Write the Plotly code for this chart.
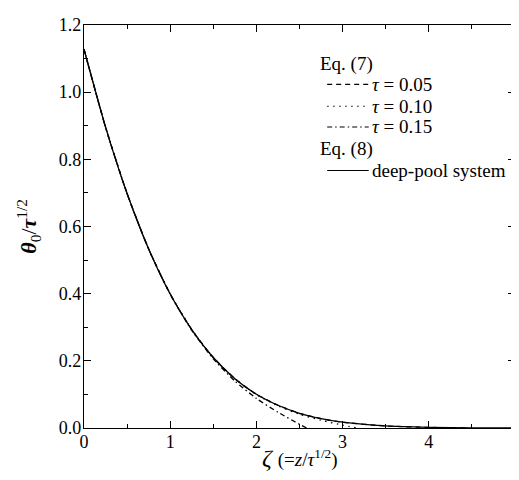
import plotly.graph_objects as go

# deep-pool system, Eq. (8)
zeta_deep = [0, 0.25, 0.5, 0.75, 1.0, 1.25, 1.5, 1.75, 2.0, 2.25, 2.5, 2.75, 3.0, 3.5, 4.0, 4.5, 5.0]
theta_deep = [1.128, 0.896, 0.698, 0.533, 0.399, 0.293, 0.210, 0.147, 0.1005, 0.0677, 0.0438, 0.0280, 0.0172, 0.0061, 0.0020, 0.0006, 0.00015]

# Eq. (7), tau = 0.05
zeta_05 = [0, 0.25, 0.5, 0.75, 1.0, 1.25, 1.5, 1.75, 2.0, 2.25, 2.5, 2.75, 3.0, 3.5, 4.0, 4.25, 4.47]
theta_05 = [1.128, 0.896, 0.698, 0.533, 0.399, 0.293, 0.210, 0.147, 0.1005, 0.0677, 0.0438, 0.0280, 0.0172, 0.0061, 0.0018, 0.0007, 0.0]

# Eq. (7), tau = 0.10
zeta_10 = [0, 0.25, 0.5, 0.75, 1.0, 1.25, 1.5, 1.75, 2.0, 2.25, 2.5, 2.75, 3.0, 3.162]
theta_10 = [1.128, 0.896, 0.698, 0.533, 0.399, 0.293, 0.2095, 0.1465, 0.0996, 0.066, 0.0409, 0.0229, 0.0084, 0.0]

# Eq. (7), tau = 0.15
zeta_15 = [0, 0.25, 0.5, 0.75, 1.0, 1.25, 1.5, 1.75, 2.0, 2.25, 2.5, 2.582]
theta_15 = [1.128, 0.896, 0.698, 0.533, 0.398, 0.291, 0.206, 0.140, 0.088, 0.047, 0.011, 0.0]

x_ticks = [0, 1, 2, 3, 4, 5]
y_ticks = [0.0, 0.2, 0.4, 0.6, 0.8, 1.0, 1.2]
y_tick_labels = ["0.0", "0.2", "0.4", "0.6", "0.8", "1.0", "1.2"]

FONT = "Liberation Serif"

DASH = "5px,4px"
DOT = "1.5px,4.5px"
DASHDOT = "5px,3px,1.5px,3px"

fig = go.Figure()
series = [
    (zeta_deep, theta_deep, "solid"),
    (zeta_05, theta_05, DASH),
    (zeta_10, theta_10, DOT),
    (zeta_15, theta_15, DASHDOT),
]
for xs, ys, dash in series:
    fig.add_trace(go.Scatter(x=xs, y=ys, mode="lines",
                             line=dict(color="black", width=1.3, dash=dash, shape="spline", smoothing=0.6),
                             showlegend=False, hoverinfo="skip"))

axis_common = dict(showline=True, linecolor="black", linewidth=1.3, mirror="ticks",
                   ticks="inside", ticklen=7, tickwidth=1, tickcolor="black",
                   showgrid=False, zeroline=False, ticklabeloverflow="allow",
                   tickfont=dict(family=FONT, size=18, color="black"))

fig.update_xaxes(range=[0, 5], tickvals=x_ticks, ticklabelstandoff=-3,
                 minor=dict(dtick=0.5, ticks="inside", ticklen=4, tickcolor="black", showgrid=False),
                 **axis_common)
fig.update_yaxes(range=[0, 1.2], tickvals=y_ticks, ticktext=y_tick_labels, ticklabelstandoff=-2,
                 minor=dict(dtick=0.1, ticks="inside", ticklen=4, tickcolor="black", showgrid=False),
                 **axis_common)

L, R, T, B = 76, 7, 13, 60
W = 519 - L - R
H = 480 - T - B

def px(x):
    return (x - L) / W

def py(y):
    return (480 - B - y) / H

# axis titles
fig.add_annotation(xref="paper", yref="paper", x=px(295), y=py(450), xanchor="center", yanchor="middle",
                   showarrow=False,
                   text="<i>ζ</i> <span style='font-size:19px'>(=<i>z</i>/<i>τ</i><sup>1/2</sup>)</span>",
                   font=dict(family=FONT, size=24, color="black"))
fig.add_annotation(xref="paper", yref="paper", x=px(19), y=py(216), xanchor="center", yanchor="middle",
                   showarrow=False, textangle=-90,
                   text="<b><i>θ</i></b><sub>0</sub>/<b><i>τ</i></b><sup>1/2</sup>",
                   font=dict(family=FONT, size=22, color="black"))

# legend (drawn manually)
legend_font = dict(family=FONT, size=19, color="black")
x0, x1, xt = px(322), px(364), px(365)
anns = [
    dict(text="Eq. (7)", x=px(313), y=py(52)),
    dict(text="<i>τ</i> = 0.05", x=xt, y=py(73)),
    dict(text="<i>τ</i> = 0.10", x=xt, y=py(95)),
    dict(text="<i>τ</i> = 0.15", x=xt, y=py(116)),
    dict(text="Eq. (8)", x=px(313), y=py(138)),
    dict(text="deep-pool system", x=xt, y=py(160)),
]
for a in anns:
    fig.add_annotation(xref="paper", yref="paper", xanchor="left", yanchor="middle",
                       showarrow=False, font=legend_font, **a)
for yy, dash in [(73, DASH), (95, DOT), (116, DASHDOT), (160, "solid")]:
    fig.add_shape(type="line", xref="paper", yref="paper", x0=x0, x1=x1, y0=py(yy), y1=py(yy),
                  line=dict(color="black", width=1.1, dash=dash))

fig.update_layout(width=519, height=480, margin=dict(l=L, r=R, t=T, b=B),
                  plot_bgcolor="white", paper_bgcolor="white",
                  font=dict(family=FONT, color="black"))

fig.write_html("out.html")
